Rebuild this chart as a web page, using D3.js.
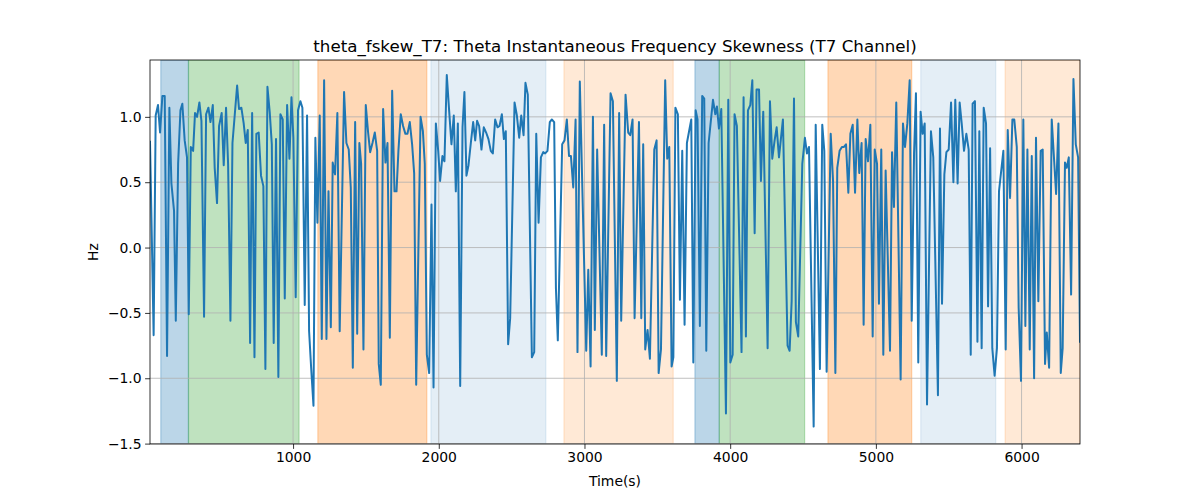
<!DOCTYPE html>
<html><head><meta charset="utf-8">
<script src="https://cdn.jsdelivr.net/npm/d3@7"></script>
<style>body{margin:0;background:#fff}svg{display:block}text{font-family:"DejaVu Sans",sans-serif}</style>
</head><body><svg id="c" width="1200" height="500"></svg>
<script>
const times = [18,43,57,73,87,103,119,135,151,165,183,195,211,227,240,256,272,284,298,314,327,341,357,371,389,403,419,433,449,462,478,492,510,524,540,554,570,584,600,616,629,645,661,675,689,705,719,735,748,764,780,796,810,824,840,854,867,883,899,913,929,943,959,975,989,1002,1018,1034,1050,1064,1080,1096,1110,1124,1140,1153,1167,1183,1197,1213,1229,1243,1259,1272,1288,1304,1320,1350,1366,1382,1396,1410,1426,1440,1455,1467,1483,1499,1515,1529,1545,1561,1577,1588,1602,1618,1634,1648,1664,1680,1696,1710,1723,1739,1755,1771,1785,1801,1817,1831,1845,1875,1891,1904,1918,1934,1950,1964,1980,1996,2009,2025,2039,2055,2071,2087,2103,2117,2131,2147,2163,2176,2190,2204,2220,2236,2250,2263,2277,2293,2309,2325,2341,2357,2371,2387,2403,2417,2433,2447,2460,2476,2490,2520,2536,2552,2566,2582,2595,2611,2639,2655,2669,2685,2701,2717,2730,2746,2762,2776,2792,2804,2817,2847,2863,2879,2894,2907,2923,2939,2952,2968,3012,3026,3042,3058,3071,3087,3119,3135,3149,3179,3195,3222,3238,3252,3282,3300,3314,3330,3344,3374,3390,3403,3417,3433,3449,3479,3495,3509,3525,3554,3568,3582,3598,3610,3624,3641,3655,3671,3687,3703,3733,3747,3763,3776,3792,3808,3822,3836,3852,3882,3898,3909,3923,3939,3971,3987,4001,4017,4030,4046,4078,4092,4108,4122,4138,4152,4168,4181,4198,4211,4227,4257,4273,4289,4305,4319,4335,4348,4362,4394,4408,4422,4438,4451,4467,4495,4513,4527,4541,4573,4587,4616,4632,4646,4662,4690,4706,4722,4735,4751,4767,4781,4795,4811,4825,4841,4857,4873,4886,4902,4916,4930,4946,4962,4978,4992,5008,5021,5037,5051,5067,5097,5111,5124,5140,5170,5186,5200,5216,5232,5246,5262,5275,5291,5307,5321,5335,5351,5378,5394,5426,5440,5454,5470,5484,5500,5516,5532,5545,5561,5575,5589,5605,5621,5637,5651,5664,5680,5697,5710,5726,5740,5756,5770,5784,5799,5815,5831,5845,5875,5891,5905,5921,5937,5950,5967,5980,5996,6012,6026,6040,6056,6070,6086,6099,6115,6131,6145,6161,6173,6189,6207,6237,6253,6269,6282,6298,6310,6324,6340,6356,6372,6388,6401];
const values = [0.81,-0.67,1.01,1.09,0.88,1.16,1.16,-0.83,1.07,0.49,0.28,-0.56,0.64,1.05,1.10,0.82,0.69,-0.51,0.77,0.74,1.03,1.00,1.11,0.97,-0.53,1.02,1.07,0.96,1.09,0.61,0.34,0.93,1.03,0.63,1.07,0.64,-0.56,0.80,1.02,1.24,1.06,1.07,0.95,0.80,0.90,-0.73,1.03,-0.84,0.87,0.88,0.55,0.47,-0.93,1.23,1.03,0.79,-0.73,0.83,-0.99,1.02,0.98,-0.39,1.09,0.68,1.15,0.84,-0.38,1.05,1.12,1.07,-0.44,1.01,-0.64,-0.92,-1.21,0.84,0.19,1.01,-0.70,1.28,-0.70,0.43,-0.61,0.65,0.56,1.03,-0.64,1.19,0.80,0.75,0.46,-0.92,0.96,-0.66,0.80,0.64,-0.78,1.09,0.88,0.73,0.80,0.88,0.74,-0.89,-1.05,1.06,0.65,0.80,-0.69,1.20,0.43,0.43,0.74,1.02,0.93,0.87,0.87,0.96,0.79,0.57,-1.05,1.00,0.89,0.64,-0.82,-0.96,0.33,-1.07,0.95,0.74,0.51,0.70,0.66,1.32,1.05,0.79,1.01,0.43,0.95,-1.06,0.92,1.19,0.55,0.63,0.80,0.96,0.82,0.97,0.93,0.75,0.92,0.88,0.83,0.74,0.72,0.98,0.92,0.93,1.02,0.83,0.89,-0.74,-0.54,1.11,1.01,0.84,1.01,0.86,1.26,1.17,-0.84,-0.80,0.87,0.19,0.69,0.73,0.72,0.74,0.96,0.98,0.96,-0.31,-0.71,0.79,0.82,0.98,0.70,0.70,0.46,0.98,-0.80,1.27,-0.79,-0.17,-0.91,1.00,-0.63,0.75,-0.82,0.94,-0.83,1.18,1.12,-1.02,1.03,-0.56,1.17,0.88,0.86,0.98,-0.54,0.96,-0.54,0.79,-0.78,-0.63,-0.85,0.75,0.82,-0.96,-0.78,1.28,0.68,0.77,-0.91,-0.84,1.07,1.02,-0.40,0.74,-0.59,0.80,0.98,-0.88,1.05,0.98,-0.60,1.16,1.14,-0.79,0.80,1.13,1.02,1.08,0.91,1.06,-1.27,1.13,-0.88,-0.82,1.02,0.93,-0.80,1.15,-0.68,1.05,1.09,1.28,0.11,1.21,1.21,0.51,1.04,-0.77,1.12,0.68,0.82,0.92,0.69,0.83,0.98,-0.75,-0.79,-0.41,1.14,-0.57,-0.68,0.64,0.84,0.72,0.77,-1.37,0.94,-0.93,0.94,0.74,-0.95,0.87,0.51,-0.96,0.61,0.74,0.77,0.77,0.79,0.42,0.87,0.94,0.42,0.98,0.57,0.80,-0.59,0.83,0.66,0.94,-0.68,0.75,0.64,-0.43,0.75,-0.82,0.59,-0.79,0.73,0.31,1.11,-1.01,0.95,0.77,0.95,1.28,-0.56,0.72,1.18,-0.88,1.04,0.87,0.95,-1.20,0.89,0.69,-1.13,0.91,-0.43,0.56,0.73,0.75,1.11,0.50,1.13,0.49,1.11,0.95,0.74,0.87,0.75,-0.82,1.10,1.12,-0.72,0.89,-0.77,1.07,0.95,-0.45,0.76,-0.77,-0.98,-0.77,0.43,0.74,-0.78,0.90,0.38,0.98,0.98,0.77,-0.46,-1.02,0.98,-0.60,0.75,-0.78,0.70,-1.00,0.84,-0.41,0.74,0.75,-0.89,-0.65,-0.92,0.98,0.41,0.95,-0.96,-0.77,0.65,0.61,0.69,-0.36,1.29,0.79,0.69,-0.72];

const spanStarts = [92,282,1170,1946,2859,3758,3925,4671,5308,5887];
const spanEnds   = [282,1041,1918,2735,3609,3925,4511,5246,5823,6401];
const spanColors = ["#1f77b4","#2ca02c","#ff7f0e","#1f77b4","#ff7f0e","#1f77b4","#2ca02c","#ff7f0e","#1f77b4","#ff7f0e"];
const spanAlphas = [0.3,0.3,0.3,0.12,0.17,0.3,0.3,0.3,0.12,0.17];

const xTicks = [1000,2000,3000,4000,5000,6000];
const yTicks = [-1.5,-1.0,-0.5,0.0,0.5,1.0];
const titleText = "theta_fskew_T7: Theta Instantaneous Frequency Skewness (T7 Channel)";
const xLabel = "Time(s)";
const yLabel = "Hz";

const L=150, R=1080, T=60, B=444;
const svg = d3.select("#c");
const x = d3.scaleLinear().domain([18,6401]).range([L,R]);
const y = d3.scaleLinear().domain([-1.503,1.435]).range([B,T]);

svg.append("defs").append("clipPath").attr("id","cp").append("rect")
  .attr("x",L).attr("y",T).attr("width",R-L).attr("height",B-T);

const spans = spanStarts.map((s,i)=>({s, e:spanEnds[i], c:spanColors[i], a:spanAlphas[i]}));
svg.append("g").attr("clip-path","url(#cp)").selectAll("rect").data(spans).join("rect")
  .attr("x",d=>x(d.s)).attr("width",d=>x(d.e)-x(d.s))
  .attr("y",T).attr("height",B-T)
  .attr("fill",d=>d.c).attr("fill-opacity",d=>d.a)
  .attr("stroke",d=>d.c).attr("stroke-opacity",d=>d.a).attr("stroke-width",1.2);

// grid
const g = svg.append("g");
g.selectAll(".gx").data(xTicks).join("line")
  .attr("x1",d=>x(d)).attr("x2",d=>x(d)).attr("y1",T).attr("y2",B)
  .attr("stroke","#b0b0b0").attr("stroke-width",0.8);
g.selectAll(".gy").data(yTicks).join("line")
  .attr("x1",L).attr("x2",R).attr("y1",d=>y(d)).attr("y2",d=>y(d))
  .attr("stroke","#b0b0b0").attr("stroke-width",0.8);

const pts = times.map((t,i)=>[t,values[i]]);
svg.append("path").datum(pts)
  .attr("clip-path","url(#cp)")
  .attr("d",d3.line().x(d=>x(d[0])).y(d=>y(d[1])))
  .attr("fill","none").attr("stroke","#1f77b4").attr("stroke-width",2)
  .attr("stroke-linejoin","round").attr("stroke-linecap","square");

// axes
const xAxis = d3.axisBottom(x).tickValues(xTicks).tickFormat(d3.format("d")).tickSize(4.9).tickPadding(3.5);
const yAxis = d3.axisLeft(y).tickValues(yTicks).tickFormat(d3.format(".1f")).tickSize(4.9).tickPadding(3.5);
const gx = svg.append("g").attr("transform",`translate(0,${B})`).call(xAxis);
const gy = svg.append("g").attr("transform",`translate(${L},0)`).call(yAxis);
[gx,gy].forEach(a=>{
  a.select(".domain").remove();
  a.selectAll("line").attr("stroke","#000").attr("stroke-width",0.8);
  a.selectAll("text").attr("font-family","DejaVu Sans").attr("font-size",13.9).attr("fill","#000");
});
gy.selectAll("text").text(d=>d3.format(".1f")(d).replace("-","\u2212"));

svg.append("rect").attr("x",L).attr("y",T).attr("width",R-L).attr("height",B-T)
  .attr("fill","none").attr("stroke","#000").attr("stroke-width",0.8);

svg.append("text").attr("x",(L+R)/2).attr("y",52).attr("text-anchor","middle")
  .attr("font-size",16.7).text(titleText);
svg.append("text").attr("x",(L+R)/2).attr("y",486).attr("text-anchor","middle")
  .attr("font-size",13.9).text(xLabel);
svg.append("text").attr("transform",`translate(98,${(T+B)/2}) rotate(-90)`).attr("text-anchor","middle")
  .attr("font-size",13.9).text(yLabel);
</script></body></html>
